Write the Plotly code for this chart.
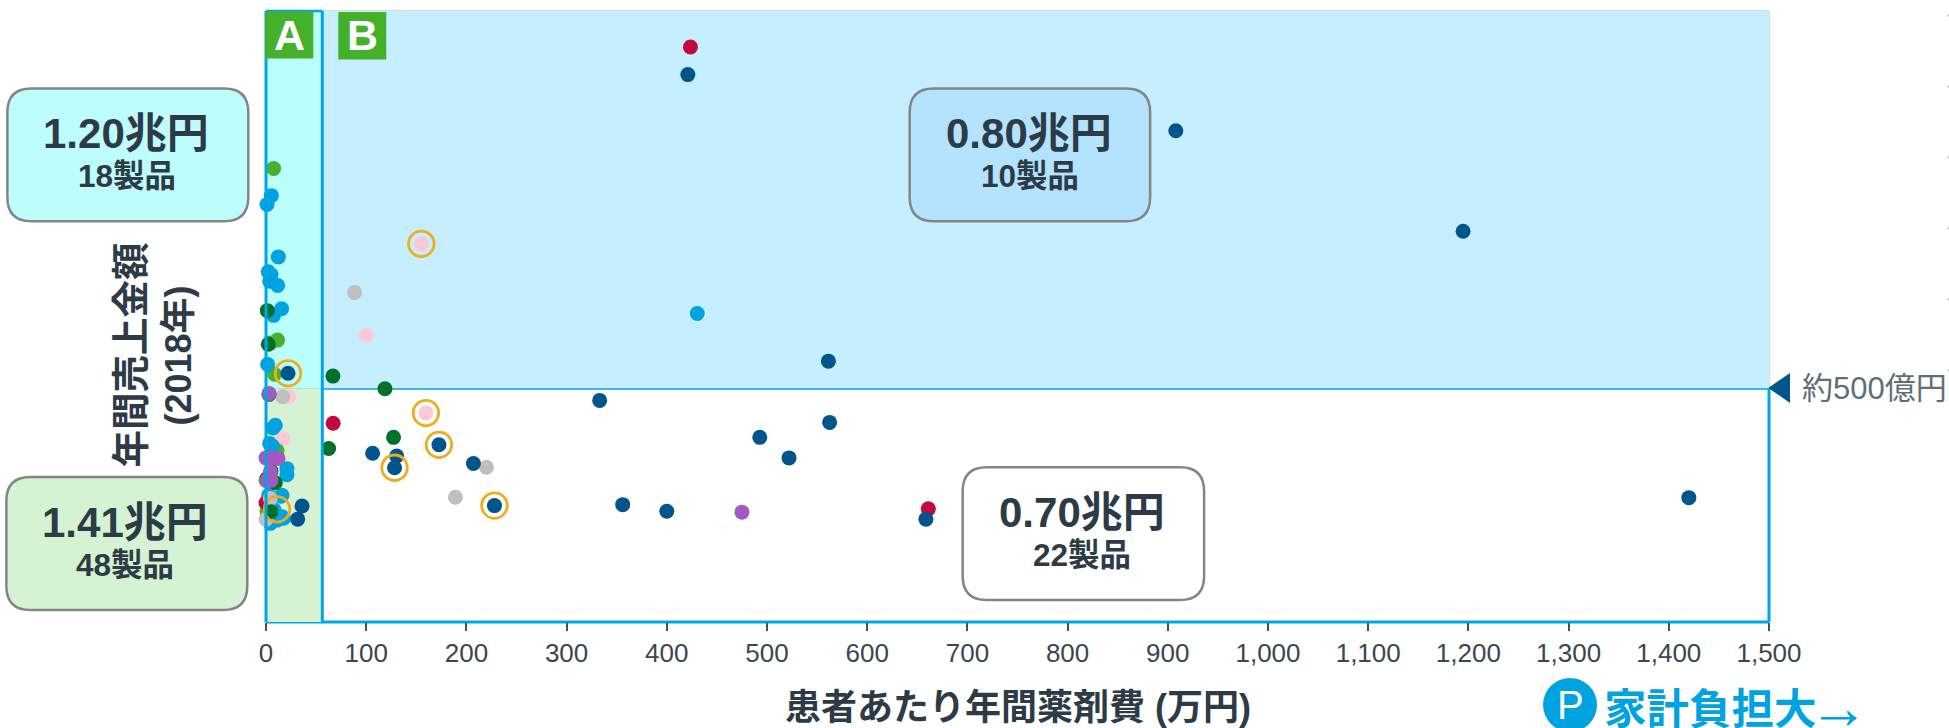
import plotly.graph_objects as go

# ---------- data (x: 患者あたり年間薬剤費 万円, y: 年間売上金額 億円) ----------
pink_x = [100, 22.6, 17, 155, 159.6]
pink_y = [613, 482, 392, 809, 447]
lgreen_x = [7.6, 11.5, 4.3, 8.6, 9.3, 11, 0, 1, 8]
lgreen_y = [970, 603, 597, 530, 361, 367, 303, 236, 232]
blue_x = [5.3, 1, 12.3, 2.3, 5, 3.6, 11.6, 15.6, 7.6, 430.4, 1.6, 9.3, 7, 3.6, 6.6,
          20.9, 20.9, 2.6, 16, 15, 16, 17.6, 4.3, 4.3, 11, 8]
blue_y = [912, 893, 781, 749, 743, 729, 720, 670, 656, 660, 551, 421, 415, 382, 376,
          328, 315, 271, 271, 269, 225, 222, 214, 211, 218, 240]
red_x = [423.6, 67, 661, 0]
red_y = [1230, 425, 242, 255]
gray_x = [88.4, 16.6, 220, 189, 4.3, 0]
gray_y = [705, 482, 331, 267, 264, 220]
dblue_x = [421, 908, 1194.7, 561.3, 22, 333, 562.5, 492.8, 522, 172.6, 106.4, 130.4,
           128.3, 207, 36, 31.6, 356, 228, 400, 658.6, 1420]
dblue_y = [1171, 1051, 836, 558, 532, 474, 427, 395, 351, 379, 361, 355,
           330, 339, 248, 220, 251, 249, 237, 220, 266]
dgreen_x = [1.3, 2.3, 66.8, 118.7, 3, 127.3, 62.5, 5, 1, 9.3, 5]
dgreen_y = [666, 594, 526, 499, 487, 395, 371, 323, 307, 298, 236]
purple_x = [3, 0, 6, 12, 4.3, 1, 5, 475]
purple_y = [489, 351, 351, 350, 321, 303, 303, 235]
ring_x = [155, 22, 159.6, 172.6, 128.3, 228, 11]
ring_y = [809, 532, 447, 379, 330, 249, 241]

x_ticks = list(range(0, 1501, 100))
x_ticklabels = [f"{v:,}" for v in x_ticks]

series = [
    (pink_x, pink_y, "#FFC8D8"),
    (lgreen_x, lgreen_y, "#48B02C"),
    (blue_x, blue_y, "#00A3E0"),
    (red_x, red_y, "#C4073D"),
    (gray_x, gray_y, "#BFBFBF"),
    (dblue_x, dblue_y, "#00558C"),
    (dgreen_x, dgreen_y, "#00702A"),
    (purple_x, purple_y, "#A25AC2"),
]

W, H = 1949, 728
L, R, T, B = 265.7, 1769.0, 10.5, 622.0
XMAX = 1500
YMAX = 1307
AX = 56.2          # 区分 A の上限
LINE = "#00A5E3"
TEXT = "#2D3B47"
FONT = "Liberation Sans, Noto Sans CJK JP, sans-serif"


def px(x):
    return (x - L) / (R - L)


def py(y):
    return (B - y) / (B - T)


fig = go.Figure()
for xs, ys, c in series:
    fig.add_trace(go.Scatter(x=xs, y=ys, mode="markers", cliponaxis=False, showlegend=False,
                             marker=dict(size=15, color=c, line=dict(width=0))))
fig.add_trace(go.Scatter(x=ring_x, y=ring_y, mode="markers", cliponaxis=False, showlegend=False,
                         marker=dict(size=25.5, color="rgba(0,0,0,0)",
                                     line=dict(width=2.8, color="#F0AC1E"))))

shapes = []


def rect(x0, x1, y0, y1, fill, layer="below", line=None, lw=0):
    shapes.append(dict(type="rect", xref="x", yref="y", x0=x0, x1=x1, y0=y0, y1=y1,
                       fillcolor=fill, layer=layer,
                       line=dict(color=line, width=lw) if line else dict(width=0)))


def seg(x0, y0, x1, y1, color=LINE, w=3, layer="below"):
    # paper 座標で描くことでプロット領域の端で線が切れないようにする
    shapes.append(dict(type="line", xref="paper", yref="paper", x0=x0 / XMAX, y0=y0 / YMAX,
                       x1=x1 / XMAX, y1=y1 / YMAX, layer=layer, line=dict(color=color, width=w)))


def rounded(x0, y0, x1, y1, fill, r=24):
    xa, xb, xc, xd = px(x0), px(x0 + r), px(x1 - r), px(x1)
    ya, yb, yc, yd = py(y0), py(y0 + r), py(y1 - r), py(y1)
    p = (f"M {xb},{ya} L {xc},{ya} Q {xd},{ya} {xd},{yb} L {xd},{yc} Q {xd},{yd} {xc},{yd} "
         f"L {xb},{yd} Q {xa},{yd} {xa},{yc} L {xa},{yb} Q {xa},{ya} {xb},{ya} Z")
    shapes.append(dict(type="path", xref="paper", yref="paper", path=p, fillcolor=fill,
                       layer="above", line=dict(color="#858585", width=2.5)))


def badge(x0, x1, y0, y1):
    shapes.append(dict(type="rect", xref="paper", yref="paper", x0=px(x0), x1=px(x1),
                       y0=py(y0), y1=py(y1), fillcolor="#45B02A", layer="above", line=dict(width=0)))


# 領域の塗り
rect(AX, 1500, 500, YMAX, "#C5EFFF")
rect(0, AX, 500, YMAX, "#BBFFFB")
rect(0, AX, 0, 500, "#D5F3D2")

# 枠線
seg(AX, YMAX, 1500, YMAX, "#DDDDDD", 2.5)
seg(1500, 500, 1500, YMAX, "#DDDDDD", 2.5)
seg(0, 500, 1500, 500)
seg(0, 0, 1500, 0)
seg(1500, 0, 1500, 500)
seg(0, YMAX, AX, YMAX, layer="above", w=2.5)
seg(0, 0, 0, YMAX, layer="above")
seg(AX, 0, AX, YMAX, layer="above")

# 500億円マーカー
tx0, ty0 = px(1768.3), py(387.7)
shapes.append(dict(type="path", xref="paper", yref="paper",
                   path=f"M {tx0},{ty0} L {px(1790)},{py(372.7)} L {px(1790)},{py(402.7)} Z",
                   fillcolor="#00558C", layer="above", line=dict(width=0)))

# 右端の微小な点
for yy in (15, 86, 157, 228, 299, 370):
    shapes.append(dict(type="rect", xref="paper", yref="paper", x0=px(1947.5), x1=px(1949),
                       y0=py(yy - 1), y1=py(yy + 1), fillcolor="#BBBBBB", layer="above",
                       line=dict(width=0)))

rounded(7, 88, 248, 221, "#BDFDFB")
rounded(6, 477, 247, 610, "#D5F3D2")
rounded(909.5, 88, 1150, 221, "#B4E3FF")
rounded(962.5, 467, 1204, 600, "#FFFFFF")
badge(265, 313, 11, 58)
badge(338, 386, 11.5, 59)

# P マーク
shapes.append(dict(type="circle", xref="paper", yref="paper", x0=px(1543), x1=px(1597),
                   y0=py(678), y1=py(732), fillcolor="#00A3E0", layer="above", line=dict(width=0)))

anns = []


def label(text, x, y, size, color=TEXT, bold=True, angle=0):
    t = f"<b>{text}</b>" if bold else text
    anns.append(dict(text=t, xref="paper", yref="paper", x=px(x), y=py(y), xanchor="center",
                     yanchor="middle", showarrow=False, textangle=angle,
                     font=dict(family=FONT, size=size, color=color)))


label("1.20兆円", 126, 133, 42)
label("18製品", 127, 176, 31.5)
label("1.41兆円", 125, 522, 42)
label("48製品", 125, 565, 31.5)
label("0.80兆円", 1029, 133, 42)
label("10製品", 1030, 176, 31.5)
label("0.70兆円", 1082, 512, 42)
label("22製品", 1082, 555, 31.5)
label("A", 289, 35, 43, "#FFFFFF")
label("B", 362, 35, 43, "#FFFFFF")
label("年間売上金額", 131, 355, 37.5, angle=-90)
label("(2018年)", 178, 355, 36, angle=-90)
label("患者あたり年間薬剤費 (万円)", 1017.5, 708, 36)
label("約500億円", 1874.5, 388, 31, "#5F6E78", bold=False)
label("P", 1570, 705, 40, "#FFFFFF", bold=False)
label("家計負担大", 1710, 710, 42.5, "#00A3E0")
label("→", 1839, 708, 60, "#00A3E0", bold=False)

fig.update_layout(
    width=W, height=H, autosize=False,
    margin=dict(l=L, r=W - R, t=T, b=H - B, pad=0),
    paper_bgcolor="white", plot_bgcolor="white",
    shapes=shapes, annotations=anns, showlegend=False,
    font=dict(family=FONT),
    xaxis=dict(range=[0, XMAX], tickmode="array", tickvals=x_ticks, ticktext=x_ticklabels,
               showgrid=False, zeroline=False, showline=False,
               ticks="outside", ticklen=8, tickwidth=1.5, tickcolor="#44525C",
               tickfont=dict(family=FONT, size=26, color="#3A4650")),
    yaxis=dict(range=[0, YMAX], showgrid=False, zeroline=False, showline=False,
               showticklabels=False, ticks=""),
)

fig.write_html("out.html", config=dict(displayModeBar=False),
               post_script="document.body.style.margin='0';document.documentElement.style.overflow='hidden';")
